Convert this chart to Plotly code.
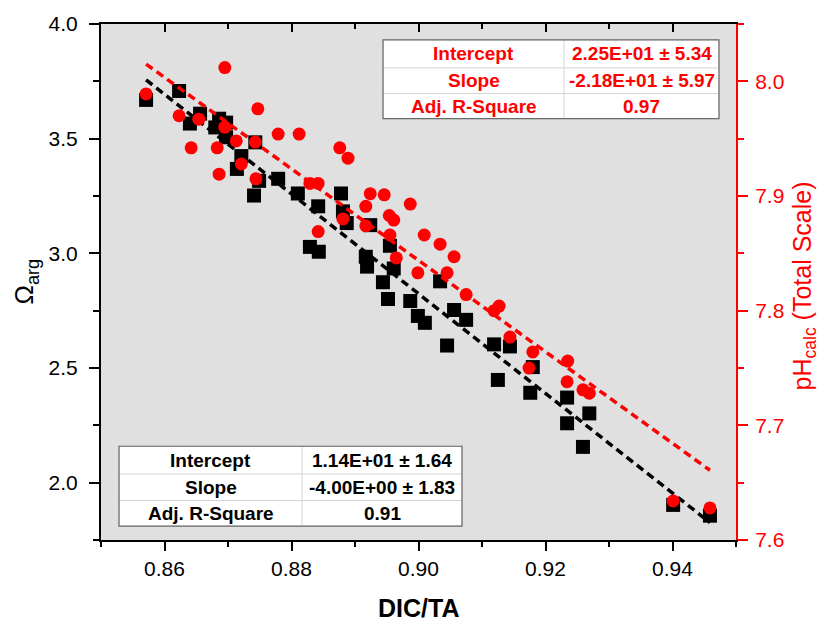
import plotly.graph_objects as go

# ---------------- data ----------------
dic_ta_omega = [0.8571, 0.8623, 0.8640, 0.8656, 0.8686, 0.8697, 0.8680, 0.8697, 0.8721, 0.8714,
                0.8743, 0.8749, 0.8741, 0.8779, 0.8810, 0.8842, 0.8829, 0.8843, 0.8878, 0.8881,
                0.8887, 0.8924, 0.8917, 0.8919, 0.8955, 0.8961, 0.8944, 0.8952, 0.8987, 0.8999,
                0.9010, 0.9034, 0.9056, 0.9075, 0.9045, 0.9119, 0.9144, 0.9125, 0.9176, 0.9180,
                0.9234, 0.9234, 0.9269, 0.9259, 0.9401, 0.9459]
omega_arg = [3.669, 3.708, 3.566, 3.609, 3.587, 3.570, 3.549, 3.506, 3.424, 3.368,
             3.484, 3.316, 3.252, 3.325, 3.261, 3.205, 3.028, 3.007, 3.261, 3.183,
             3.132, 3.123, 2.985, 2.942, 3.033, 2.934, 2.874, 2.801, 2.792, 2.727,
             2.697, 2.878, 2.753, 2.710, 2.598, 2.603, 2.594, 2.448, 2.392, 2.504,
             2.371, 2.259, 2.302, 2.156, 1.903, 1.856]

dic_ta_ph = [0.8571, 0.8695, 0.8623, 0.8654, 0.8642, 0.8683, 0.8686, 0.8695, 0.8713, 0.8721,
             0.8747, 0.8743, 0.8744, 0.8779, 0.8812, 0.8829, 0.8842, 0.8842, 0.8876, 0.8889,
             0.8881, 0.8917, 0.8924, 0.8917, 0.8946, 0.8954, 0.8961, 0.8955, 0.8965, 0.8987,
             0.8999, 0.9009, 0.9034, 0.9056, 0.9045, 0.9075, 0.9127, 0.9119, 0.9144, 0.9180,
             0.9174, 0.9235, 0.9234, 0.9259, 0.9269, 0.9401, 0.9459]
ph_calc = [7.989, 8.012, 7.970, 7.967, 7.942, 7.942, 7.919, 7.960, 7.948, 7.928,
           7.976, 7.947, 7.915, 7.954, 7.954, 7.911, 7.911, 7.869, 7.942, 7.933,
           7.880, 7.891, 7.902, 7.874, 7.901, 7.883, 7.879, 7.866, 7.846, 7.893,
           7.833, 7.866, 7.858, 7.847, 7.833, 7.814, 7.804, 7.800, 7.777, 7.764,
           7.750, 7.756, 7.738, 7.731, 7.728, 7.634, 7.628]

omega_fit_intercept = 22.39
omega_fit_slope = -21.74
ph_fit_intercept = 11.434
ph_fit_slope = -3.989

table_labels = ["Intercept", "Slope", "Adj. R-Square"]
table_red_values = ["2.25E+01 ± 5.34", "-2.18E+01 ± 5.97", "0.97"]
table_black_values = ["1.14E+01 ± 1.64", "-4.00E+00 ± 1.83", "0.91"]

x_ticks = [0.86, 0.88, 0.90, 0.92, 0.94]

# ---------------- geometry ----------------
W, H = 821, 624
L, R, T, B = 101, 736, 17, 540
FONT = "Arial, Liberation Sans, sans-serif"
RED = "#ff0000"


def px(x, y):
    return (x - L) / (R - L), (B - y) / (B - T)


fig = go.Figure()

fig.add_trace(go.Scatter(x=dic_ta_omega, y=omega_arg, mode="markers",
                         marker=dict(symbol="square", size=14, color="black", line=dict(width=0)),
                         xaxis="x", yaxis="y", showlegend=False))
fig.add_trace(go.Scatter(x=dic_ta_ph, y=ph_calc, mode="markers",
                         marker=dict(symbol="circle", size=13, color=RED, line=dict(width=0)),
                         xaxis="x", yaxis="y2", showlegend=False))

xo = [min(dic_ta_omega), max(dic_ta_omega)]
fig.add_trace(go.Scatter(x=xo, y=[omega_fit_intercept + omega_fit_slope * v for v in xo],
                         mode="lines", line=dict(color="black", width=3.5, dash="8px,5px"),
                         xaxis="x", yaxis="y", showlegend=False))
xp = [min(dic_ta_ph), max(dic_ta_ph)]
fig.add_trace(go.Scatter(x=xp, y=[ph_fit_intercept + ph_fit_slope * v for v in xp],
                         mode="lines", line=dict(color=RED, width=3.5, dash="8px,5px"),
                         xaxis="x", yaxis="y2", showlegend=False))
# invisible trace so the top mirror axis is drawn
fig.add_trace(go.Scatter(x=[0.9], y=[3.0], mode="markers", marker=dict(opacity=0),
                         xaxis="x2", yaxis="y", showlegend=False, hoverinfo="skip"))

tickfont = dict(family=FONT, size=21, color="black")

fig.update_layout(
    width=W, height=H,
    margin=dict(l=L, r=W - R, t=T, b=H - B, pad=0),
    paper_bgcolor="white",
    plot_bgcolor="#e0e0e0",
    font=dict(family=FONT),
    xaxis=dict(range=[0.85, 0.95], tickvals=x_ticks, tickformat=".2f",
               ticks="outside", ticklen=9, tickwidth=1.5, tickcolor="black",
               minor=dict(dtick=0.01, tick0=0.85, ticks="outside", ticklen=5, tickwidth=1.5, tickcolor="black"),
               showline=True, linecolor="black", linewidth=2, showgrid=False, zeroline=False,
               tickfont=tickfont, ticklabelstandoff=0),
    xaxis2=dict(range=[0.85, 0.95], overlaying="x", side="top", anchor="y",
                tickvals=x_ticks, ticks="inside", ticklen=8, tickwidth=1.5, tickcolor="black",
                minor=dict(dtick=0.01, tick0=0.85, ticks="inside", ticklen=5, tickwidth=1.5, tickcolor="black"),
                showticklabels=False, showline=True, linecolor="black", linewidth=2,
                showgrid=False, zeroline=False),
    yaxis=dict(range=[1.75, 4.0], dtick=0.5, tick0=0, tickformat=".1f",
               ticks="outside", ticklen=10, tickwidth=1.5, tickcolor="black",
               minor=dict(dtick=0.25, tick0=0, ticks="outside", ticklen=6, tickwidth=1.5, tickcolor="black"),
               showline=True, linecolor="black", linewidth=2, showgrid=False, zeroline=False,
               tickfont=tickfont, ticklabelstandoff=7),
    yaxis2=dict(range=[7.6, 8.05], dtick=0.1, tick0=0, tickformat=".1f", overlaying="y", side="right",
                anchor="x",
                ticks="outside", ticklen=10, tickwidth=1.5, tickcolor=RED,
                minor=dict(dtick=0.05, tick0=0, ticks="outside", ticklen=6, tickwidth=1.5, tickcolor=RED),
                showline=True, linecolor=RED, linewidth=2, showgrid=False, zeroline=False,
                tickfont=dict(family=FONT, size=21, color=RED), ticklabelstandoff=3),
)

annotations = []
shapes = []

# axis titles
tx, ty = px(418, 609)
annotations.append(dict(text="<b>DIC/TA</b>", x=tx, y=ty, xref="paper", yref="paper",
                        showarrow=False, font=dict(family=FONT, size=25, color="black"),
                        xanchor="center", yanchor="middle"))
tx, ty = px(26, 278)
annotations.append(dict(text="Ω<sub>arg</sub>", x=tx, y=ty, xref="paper", yref="paper",
                        showarrow=False, textangle=-90, font=dict(family=FONT, size=26, color="black"),
                        xanchor="center", yanchor="middle"))
tx, ty = px(804, 283)
annotations.append(dict(text="pH<sub>calc</sub> (Total Scale)", x=tx, y=ty, xref="paper", yref="paper",
                        showarrow=False, textangle=-90, font=dict(family=FONT, size=25, color=RED),
                        xanchor="center", yanchor="middle"))


def add_table(x0, x1, xm, rows_y, labels, values, color):
    a0, b0 = px(x0, rows_y[0])
    a1, b1 = px(x1, rows_y[-1])
    shapes.append(dict(type="rect", xref="paper", yref="paper", x0=a0, x1=a1, y0=b1, y1=b0,
                       fillcolor="white", line=dict(color="#cccccc", width=1), layer="above"))
    for yy in rows_y[1:-1]:
        _, bb = px(0, yy)
        shapes.append(dict(type="line", xref="paper", yref="paper", x0=a0, x1=a1, y0=bb, y1=bb,
                           line=dict(color="#d4d4d4", width=1), layer="above"))
    am, _ = px(xm, 0)
    shapes.append(dict(type="line", xref="paper", yref="paper", x0=am, x1=am, y0=b1, y1=b0,
                       line=dict(color="#d4d4d4", width=1), layer="above"))
    shapes.append(dict(type="rect", xref="paper", yref="paper", x0=a0, x1=a1, y0=b1, y1=b0,
                       fillcolor="rgba(0,0,0,0)", line=dict(color="#6a6a6a", width=1.2), layer="above"))
    for i, (lab, val) in enumerate(zip(labels, values)):
        yc = (rows_y[i] + rows_y[i + 1]) / 2
        c1, yp = px((x0 + xm) / 2, yc)
        c2, _ = px((xm + x1) / 2, yc)
        annotations.append(dict(text="<b>%s</b>" % lab, x=c1, y=yp, xref="paper", yref="paper",
                                showarrow=False, font=dict(family=FONT, size=19, color=color),
                                xanchor="center", yanchor="middle"))
        annotations.append(dict(text="<b>%s</b>" % val, x=c2, y=yp, xref="paper", yref="paper",
                                showarrow=False, font=dict(family=FONT, size=19, color=color),
                                xanchor="center", yanchor="middle"))


add_table(383, 719, 564, [33, 61.5, 87.5, 113], table_labels, table_red_values, RED)
add_table(119, 462, 302, [445, 473, 500, 526], table_labels, table_black_values, "black")

fig.update_layout(annotations=annotations, shapes=shapes)

fig.write_html("out.html")
